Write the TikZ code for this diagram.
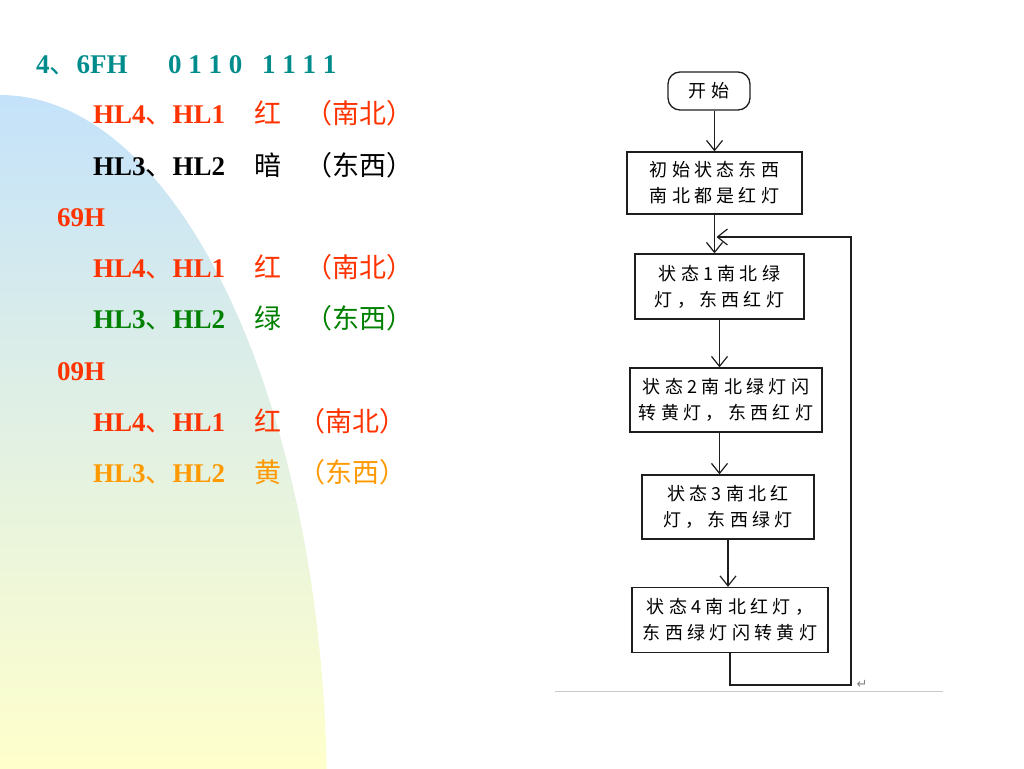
\documentclass[tikz,border=0pt]{standalone}
\usepackage{fontspec}
\setmainfont{Liberation Serif}
\newfontfamily\cjk{Noto Sans CJK SC}
\newfontfamily\cjkbox[LetterSpace=24]{Noto Sans CJK SC}
\newfontfamily\symfont{DejaVu Sans}
\usetikzlibrary{arrows.meta, positioning}
\definecolor{bgblue}{RGB}{196, 226, 250}
\definecolor{bgyellow}{RGB}{255, 255, 204}
\definecolor{hlteal}{RGB}{0, 140, 140}
\definecolor{hlred}{RGB}{255, 51, 0}
\definecolor{hlgreen}{RGB}{0, 128, 0}
\definecolor{hlorange}{RGB}{255, 153, 0}
\definecolor{flowgray}{RGB}{30, 30, 30}
\definecolor{rulegray}{RGB}{200, 200, 200}
\newcommand{\dunhao}{{\cjk\mdseries 、}}

\begin{document}
\begin{tikzpicture}[x=1pt, y=-1pt, every node/.style={inner sep=0pt},
  hltext/.style={anchor=base west, font=\fontsize{27}{27}\selectfont\bfseries},
  cjktext/.style={anchor=base west, font=\fontsize{27}{27}\selectfont\cjk},
  flowbox/.style={draw=flowgray, line width=1.3pt, text=black, align=center,
    font=\fontsize{18}{26}\selectfont\cjkbox},
  arr/.style={draw=flowgray, line width=1.2pt, -{Straight Barb[length=10pt, width=16pt]}}]
  \useasboundingbox (0,0) rectangle (1024,768);

  % Background shape
  \begin{scope}
    \clip (0,800) ellipse (327 and 705);
    \shade[top color=bgblue, bottom color=bgyellow] (0,95) rectangle (330,768);
  \end{scope}

  % 6FH
  \node[hltext, text=hlteal] (hexa) at (36,73) {4\dunhao 6FH};
  \node[hltext, text=hlteal] (bina) at (168,73) {0 1 1 0};
  \node[hltext, text=hlteal] (binb) at (262,73) {1 1 1 1};

  \node[hltext, text=hlred] (ra) at (93,123) {HL4\dunhao HL1};
  \node[cjktext, text=hlred] (rac) at (254,123) {红};
  \node[cjktext, text=hlred] (rad) at (305,123) {（南北）};

  \node[hltext, text=black] (ea) at (93,175) {HL3\dunhao HL2};
  \node[cjktext, text=black] (eac) at (254,175) {暗};
  \node[cjktext, text=black] (ead) at (305,175) {（东西）};

  % 69H
  \node[hltext, text=hlred] (hexb) at (57,226) {69H};

  \node[hltext, text=hlred] (rb) at (93,277) {HL4\dunhao HL1};
  \node[cjktext, text=hlred] (rbc) at (254,277) {红};
  \node[cjktext, text=hlred] (rbd) at (305,277) {（南北）};

  \node[hltext, text=hlgreen] (eb) at (93,328) {HL3\dunhao HL2};
  \node[cjktext, text=hlgreen] (ebc) at (254,328) {绿};
  \node[cjktext, text=hlgreen] (ebd) at (305,328) {（东西）};

  % 09H
  \node[hltext, text=hlred] (hexc) at (57,380) {09H};

  \node[hltext, text=hlred] (rc) at (93,431) {HL4\dunhao HL1};
  \node[cjktext, text=hlred] (rcc) at (254,431) {红};
  \node[cjktext, text=hlred] (rcd) at (298,431) {（南北）};

  \node[hltext, text=hlorange] (ec) at (93,482) {HL3\dunhao HL2};
  \node[cjktext, text=hlorange] (ecc) at (254,482) {黄};
  \node[cjktext, text=hlorange] (ecd) at (298,482) {（东西）};

  % Flowchart
  \node[flowbox, rounded corners=12pt, minimum width=82pt, minimum height=38pt] (start) at (709,91) {开始};
  \node[flowbox, minimum width=175pt, minimum height=62pt] (init) at (714.5,183) {初始状态东西\\南北都是红灯};
  \node[flowbox, minimum width=169pt, minimum height=65pt] (s1) at (719.5,286.5) {状态1南北绿\\灯，东西红灯};
  \node[flowbox, minimum width=192pt, minimum height=64pt] (s2) at (726,400) {状态2南北绿灯闪\\转黄灯，东西红灯};
  \node[flowbox, minimum width=172pt, minimum height=64pt] (s3) at (728,507) {状态3南北红\\灯，东西绿灯};
  \node[flowbox, minimum width=196pt, minimum height=65pt] (s4) at (730,620) {状态4南北红灯，\\东西绿灯闪转黄灯};

  \draw[arr] (init.north |- start.south) -- (init.north);
  \draw[arr] (init.south) -- (init.south |- s1.north);
  \draw[arr] (s1.south) -- (s1.south |- s2.north);
  \draw[arr] (s1.south |- s2.south) -- (s1.south |- s3.north);
  \draw[arr] (s3.south) -- (s3.south |- s4.north);

  % Loop back
  \coordinate (loopbr) at (851,685);
  \coordinate (looptr) at (851,237);
  \draw[arr, shorten >=2pt] (s4.south) |- (loopbr) -- (looptr) -- (init.south |- looptr);

  % Page rule
  \draw[rulegray, line width=1pt] (555,691) -- (943,691);
  \node[text=gray, font=\fontsize{13}{13}\selectfont\symfont] (retmark) at (862,684) {↵};
\end{tikzpicture}
\end{document}
